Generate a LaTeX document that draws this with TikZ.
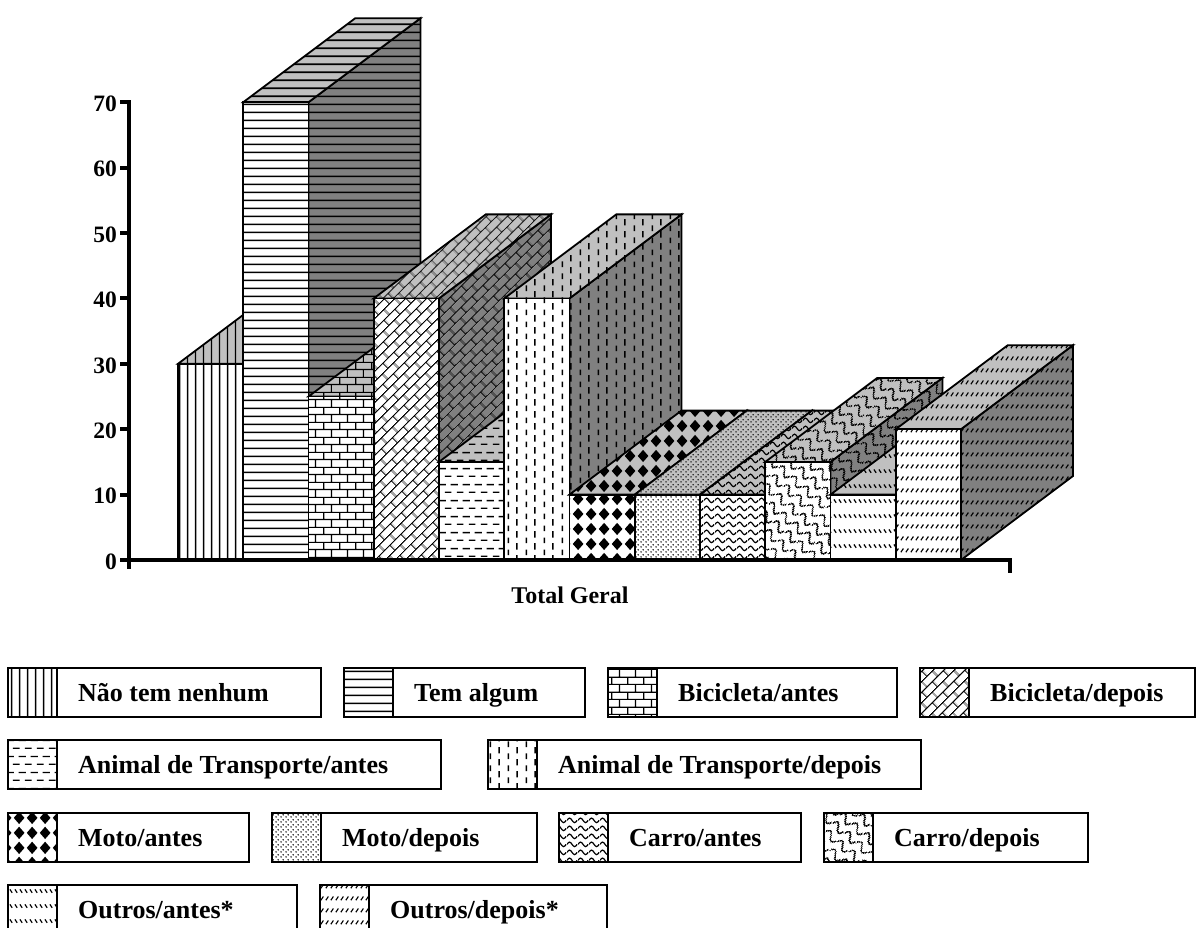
\documentclass[tikz,border=0pt]{standalone}
\usepackage{fontspec}
\setmainfont{Liberation Serif}
\usetikzlibrary{patterns,patterns.meta}

\definecolor{topgray}{HTML}{C0C0C0}
\definecolor{sidegray}{HTML}{808080}

% ---------- fill patterns (uncolored, drawn in black) ----------
\tikzdeclarepattern{name=vlinesP, bounding box={(0pt,0pt) and (8pt,8pt)}, tile size={(8pt,8pt)},
  code={\tikzset{x=1pt,y=1pt}\draw[line width=1.5pt] (4,-1) -- (4,9);}}
\tikzdeclarepattern{name=hlinesP, bounding box={(0pt,0pt) and (7.6pt,7.6pt)}, tile size={(7.6pt,7.6pt)},
  code={\tikzset{x=1pt,y=1pt}\draw[line width=1.8pt] (-1,3.8) -- (8.6,3.8);}}
\tikzdeclarepattern{name=bricksP, bounding box={(0pt,0pt) and (16pt,15pt)}, tile size={(16pt,15pt)},
  code={\tikzset{x=1pt,y=1pt}\draw[line width=1.2pt] (-1,3.75)--(17,3.75) (-1,11.25)--(17,11.25)
        (4,3.75)--(4,11.25) (12,11.25)--(12,16) (12,-1)--(12,3.75);}}
\tikzdeclarepattern{name=dbricksP, bounding box={(0pt,0pt) and (16pt,15pt)}, tile size={(16pt,15pt)},
  tile transformation={rotate=45},
  code={\tikzset{x=1pt,y=1pt}\draw[line width=1.2pt] (-1,3.75)--(17,3.75) (-1,11.25)--(17,11.25)
        (4,3.75)--(4,11.25) (12,11.25)--(12,16) (12,-1)--(12,3.75);}}
\tikzdeclarepattern{name=hdashP, bounding box={(0pt,0pt) and (12pt,16pt)}, tile size={(12pt,16pt)},
  code={\tikzset{x=1pt,y=1pt}\draw[line width=1.4pt] (1,4)--(8,4) (7,12)--(13,12) (-1,12)--(2,12);}}
\tikzdeclarepattern{name=vdashP, bounding box={(0pt,0pt) and (18pt,12pt)}, tile size={(18pt,12pt)},
  code={\tikzset{x=1pt,y=1pt}\draw[line width=1.6pt] (4.5,1)--(4.5,7) (13.5,7)--(13.5,13) (13.5,-1)--(13.5,1);}}
\tikzdeclarepattern{name=diamP, bounding box={(0pt,0pt) and (13pt,14.5pt)}, tile size={(13pt,14.5pt)},
  code={\tikzset{x=1pt,y=1pt}\fill (6.5,1) -- (12.2,7.25) -- (6.5,13.5) -- (0.8,7.25) -- cycle;}}
\tikzdeclarepattern{name=dotsP, bounding box={(0pt,0pt) and (5pt,5pt)}, tile size={(5pt,5pt)},
  code={\tikzset{x=1pt,y=1pt}\fill (1.25,1.25) circle (0.9) (3.75,3.75) circle (0.9);}}
\tikzdeclarepattern{name=waveP, bounding box={(0pt,0pt) and (10.5pt,8pt)}, tile size={(10.5pt,8pt)},
  code={\tikzset{x=1pt,y=1pt}\draw[line width=1.3pt] (0,4) sin (2.625,6.5) cos (5.25,4) sin (7.875,1.5) cos (10.5,4);}}
\tikzdeclarepattern{name=scaleP, bounding box={(0pt,0pt) and (15pt,12pt)}, tile size={(15pt,12pt)},
  tile transformation={rotate=-40},
  code={\tikzset{x=1pt,y=1pt}\draw[line width=1.4pt] (0,6) sin (3.75,10.5) cos (7.5,6) sin (11.25,1.5) cos (15,6);}}
\tikzdeclarepattern{name=outAP, bounding box={(0pt,0pt) and (4.5pt,15pt)}, tile size={(4.5pt,15pt)},
  code={\tikzset{x=1pt,y=1pt}\draw[line width=1.3pt] (1,9) -- (3.5,5.5);}}
\tikzdeclarepattern{name=outDP, bounding box={(0pt,0pt) and (5pt,12pt)}, tile size={(5pt,12pt)},
  code={\tikzset{x=1pt,y=1pt}\draw[line width=1.3pt] (1,4) -- (4,8);}}

% ---------- one 3-D bar: index, value, pattern ----------
\newcommand\drawbar[3]{%
  \pgfmathsetmacro\xl{178+65.25*#1}%
  \pgfmathsetmacro\xr{\xl+65.25}%
  \pgfmathsetmacro\yt{560-6.54*#2}%
  \path[face, preaction={fill=sidegray}, pattern=#3]
    (\xr,560) -- (\xr,\yt) -- ++(112,-84) -- (\xr+112,476) -- cycle;
  \path[face, preaction={fill=topgray}, pattern=#3]
    (\xl,\yt) -- (\xr,\yt) -- ++(112,-84) -- ++(-65.25,0) -- cycle;
  \path[face, preaction={fill=white}, pattern=#3]
    (\xl,560) rectangle (\xr,\yt);
}

% ---------- one legend entry: name, left, right, top, pattern, text ----------
\newcommand\legentry[6]{%
  \draw[legbox] (#2,#4) rectangle (#3,#4+49);
  \draw[legbox, preaction={fill=white}, pattern=#5] (#2,#4) rectangle (#2+49,#4+49);
  \node[legtext] (#1) at (#2+70,#4+33.5) {#6};
}

\begin{document}
\begin{tikzpicture}[x=1pt,y=-1pt,
  face/.style={draw=black, line width=1.8pt},
  axis/.style={draw=black, line width=4pt},
  ticklab/.style={anchor=east, inner sep=0pt, font=\fontsize{23.5}{26}\selectfont\bfseries},
  legbox/.style={draw=black, line width=2pt},
  legtext/.style={anchor=base west, inner sep=0pt, font=\fontsize{26}{30}\selectfont\bfseries}]
\useasboundingbox (0,0) rectangle (1197,928);
\clip (0,0) rectangle (1197,928);

% bars, drawn left to right so that each one hides the side of the previous one
\drawbar{0}{30}{vlinesP}
\drawbar{1}{70}{hlinesP}
\drawbar{2}{25}{bricksP}
\drawbar{3}{40}{dbricksP}
\drawbar{4}{15}{hdashP}
\drawbar{5}{40}{vdashP}
\drawbar{6}{10}{diamP}
\drawbar{7}{10}{dotsP}
\drawbar{8}{10}{waveP}
\drawbar{9}{15}{scaleP}
\drawbar{10}{10}{outAP}
\drawbar{11}{20}{outDP}

% axes
\draw[axis] (120,102.2) -- (129,102.2) -- (129,569);
\draw[axis] (129,560) -- (1010,560) -- (1010,573);
\foreach \k in {0,...,6}
  \draw[axis] (120,560-65.4*\k) -- (129,560-65.4*\k);
\foreach \k in {0,...,7}
  \node[ticklab] (tick\k) at (117,561.5-65.4*\k) {\pgfmathparse{int(10*\k)}\pgfmathresult};
\node[font=\fontsize{24}{28}\selectfont\bfseries, inner sep=0pt] (xlab) at (570,595) {Total Geral};

% legend
\legentry{lgA}{8}{321}{668}{vlinesP}{Não tem nenhum}
\legentry{lgB}{344}{585}{668}{hlinesP}{Tem algum}
\legentry{lgC}{608}{897}{668}{bricksP}{Bicicleta/antes}
\legentry{lgD}{920}{1195}{668}{dbricksP}{Bicicleta/depois}
\legentry{lgE}{8}{441}{740}{hdashP}{Animal de Transporte/antes}
\legentry{lgF}{488}{921}{740}{vdashP}{Animal de Transporte/depois}
\legentry{lgG}{8}{249}{813}{diamP}{Moto/antes}
\legentry{lgH}{272}{537}{813}{dotsP}{Moto/depois}
\legentry{lgI}{559}{801}{813}{waveP}{Carro/antes}
\legentry{lgJ}{824}{1088}{813}{scaleP}{Carro/depois}
\legentry{lgK}{8}{297}{885}{outAP}{Outros/antes*}
\legentry{lgL}{320}{607}{885}{outDP}{Outros/depois*}
\end{tikzpicture}
\end{document}
